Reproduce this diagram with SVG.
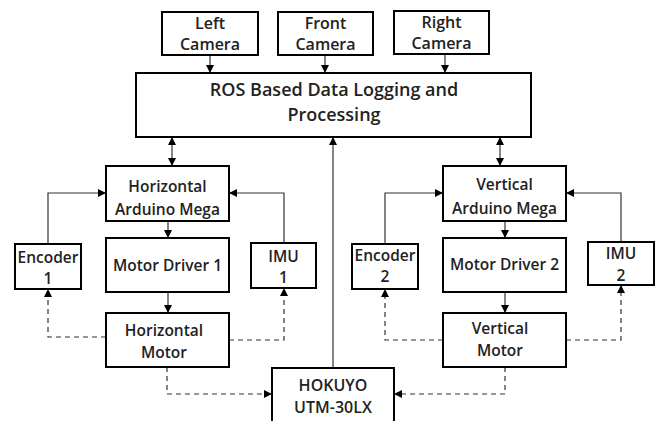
<svg xmlns="http://www.w3.org/2000/svg" width="659" height="421" viewBox="0 0 659 421">
<defs>
<marker id="ah" viewBox="0 0 8 8" refX="8" refY="4" markerWidth="8" markerHeight="8" markerUnits="userSpaceOnUse" orient="auto-start-reverse">
<path d="M0,0 L8,4 L0,8 z" fill="#000"/>
</marker>
<style>
.box{fill:#fff;stroke:#000;stroke-width:2}
.t{font-family:"Open Sans","Liberation Sans",sans-serif;font-weight:600;font-size:15.5px;fill:#222;text-anchor:middle}
.cam{font-size:16px}
.big{font-size:18px}
.hk{font-size:16px}
.c{fill:none;stroke:#333;stroke-width:1.2}
.d{stroke-dasharray:5 4}
</style>
</defs>
<rect width="659" height="421" fill="#fff"/>
<g id="connectors">
<path class="c" d="M210 55 V73" marker-end="url(#ah)"/>
<path class="c" d="M325 55 V73" marker-end="url(#ah)"/>
<path class="c" d="M445 55 V73" marker-end="url(#ah)"/>
<path class="c" d="M172 137 V166" marker-start="url(#ah)" marker-end="url(#ah)"/>
<path class="c" d="M500 137 V166" marker-start="url(#ah)" marker-end="url(#ah)"/>
<path class="c" d="M333 368 V137" marker-end="url(#ah)"/>
<path class="c" d="M48 244 V193 H106" marker-end="url(#ah)"/>
<path class="c" d="M284 243 V193 H229" marker-end="url(#ah)"/>
<path class="c" d="M168 221 V238" marker-end="url(#ah)"/>
<path class="c" d="M168 292 V313" marker-end="url(#ah)"/>
<path class="c d" d="M106 337 H48 V289" marker-end="url(#ah)"/>
<path class="c d" d="M229 340 H284 V288" marker-end="url(#ah)"/>
<path class="c d" d="M167 367 V394 H272" marker-end="url(#ah)"/>
<path class="c" d="M385 244 V193 H443" marker-end="url(#ah)"/>
<path class="c" d="M621 242 V193 H566" marker-end="url(#ah)"/>
<path class="c" d="M505 221 V238" marker-end="url(#ah)"/>
<path class="c" d="M505 292 V313" marker-end="url(#ah)"/>
<path class="c d" d="M443 340 H385 V289" marker-end="url(#ah)"/>
<path class="c d" d="M566 340 H621 V285" marker-end="url(#ah)"/>
<path class="c d" d="M505 367 V394 H394" marker-end="url(#ah)"/>
</g>
<g id="left-camera"><rect class="box" x="162" y="12" width="96" height="43"/><text class="t cam" x="210" y="29">Left</text><text class="t cam" x="210" y="50">Camera</text></g>
<g id="front-camera"><rect class="box" x="278" y="12" width="95" height="43"/><text class="t cam" x="325.5" y="29">Front</text><text class="t cam" x="325.5" y="50">Camera</text></g>
<g id="right-camera"><rect class="box" x="394" y="11" width="95" height="43"/><text class="t cam" x="441.5" y="28">Right</text><text class="t cam" x="441.5" y="49">Camera</text></g>
<g id="ros"><rect class="box" x="136" y="73" width="395" height="64"/><text class="t big" x="334" y="96">ROS Based Data Logging and</text><text class="t big" x="334" y="121">Processing</text></g>
<g id="h-arduino"><rect class="box" x="106" y="166" width="123" height="55"/><text class="t" x="167.5" y="192">Horizontal</text><text class="t" x="167.5" y="215">Arduino Mega</text></g>
<g id="v-arduino"><rect class="box" x="443" y="166" width="123" height="55"/><text class="t" x="504.5" y="190">Vertical</text><text class="t" x="504.5" y="214">Arduino Mega</text></g>
<g id="encoder1"><rect class="box" x="15" y="244" width="66" height="45"/><text class="t" x="48" y="263">Encoder</text><text class="t" x="48" y="284">1</text></g>
<g id="imu1"><rect class="box" x="251" y="243" width="65" height="45"/><text class="t" x="283.5" y="262">IMU</text><text class="t" x="283.5" y="283">1</text></g>
<g id="motor-driver1"><rect class="box" x="106" y="238" width="123" height="54"/><text class="t" x="167.5" y="271">Motor Driver 1</text></g>
<g id="h-motor"><rect class="box" x="106" y="313" width="123" height="54"/><text class="t" x="164" y="336">Horizontal</text><text class="t" x="164" y="358">Motor</text></g>
<g id="encoder2"><rect class="box" x="352" y="244" width="66" height="45"/><text class="t" x="385" y="261">Encoder</text><text class="t" x="385" y="282">2</text></g>
<g id="imu2"><rect class="box" x="588" y="242" width="66" height="43"/><text class="t" x="621" y="259">IMU</text><text class="t" x="621" y="281">2</text></g>
<g id="motor-driver2"><rect class="box" x="443" y="238" width="123" height="54"/><text class="t" x="504.5" y="270">Motor Driver 2</text></g>
<g id="v-motor"><rect class="box" x="443" y="313" width="123" height="54"/><text class="t" x="500" y="334">Vertical</text><text class="t" x="500" y="356">Motor</text></g>
<g id="hokuyo"><rect class="box" x="272" y="368" width="122" height="60"/><text class="t hk" x="333" y="391">HOKUYO</text><text class="t hk" x="333" y="413">UTM-30LX</text></g>
</svg>
